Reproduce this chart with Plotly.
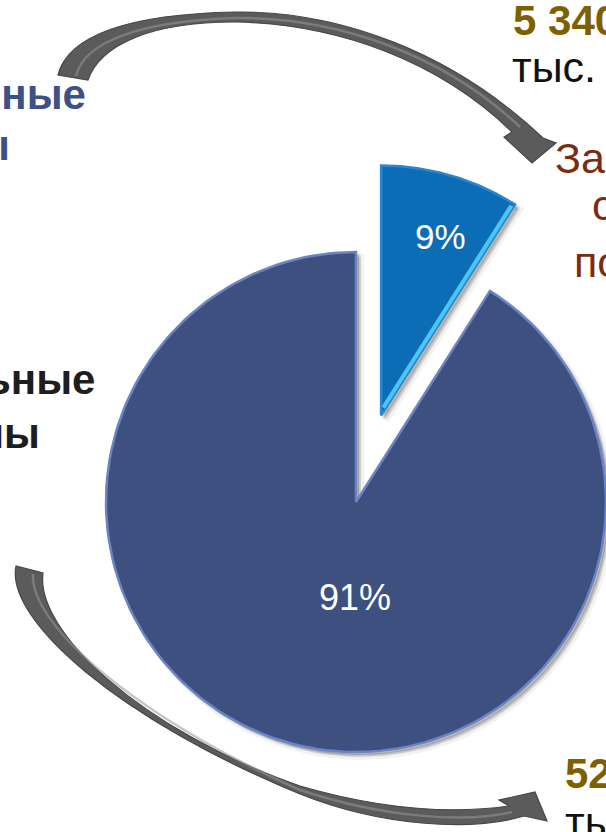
import numpy as np
import plotly.graph_objects as go

# ---------------- data ----------------
slice_labels = ["9%", "91%"]
slice_shares = [9, 91]
slice_pull = [0.36, 0.0]

value_texts = ["5 340", "52"]
unit_texts = ["тыс. р", "ты"]
left_blue_lines = ["нные", "ы"]
left_dark_lines = ["ьные", "мы"]
right_brown_lines = ["Зар", "с", "по"]

# ---------------- geometry / style ----------------
W, H = 606, 832
CX, CY, R = 356, 502, 250
slice_fill = ["#0A6DB5", "#3E5080"]
slice_edge = ["#2C86CF", "#6A84C4"]
FONT = "Arial, Liberation Sans, sans-serif"


def sector(a0, a1, cx, cy, r, n=160):
    th = np.radians(np.linspace(a0, a1, n))
    xs = np.concatenate([[cx], cx + r * np.sin(th), [cx]])
    ys = np.concatenate([[cy], cy - r * np.cos(th), [cy]])
    return xs, ys


total = float(sum(slice_shares))
cum = np.concatenate([[0.0], np.cumsum(slice_shares)]) / total * 360.0

fig = go.Figure()
geoms = []
for i in range(len(slice_shares)):
    a0, a1 = cum[i], cum[i + 1]
    mid = np.radians((a0 + a1) / 2)
    off = slice_pull[i] * R
    cx = CX + off * np.sin(mid)
    cy = CY - off * np.cos(mid)
    geoms.append((a0, a1, cx, cy))

# soft shadows
for (a0, a1, cx, cy) in geoms:
    for d, alpha, w in [(5, 0.10, 6), (3, 0.18, 3)]:
        xs, ys = sector(a0, a1, cx + d, cy + d, R)
        fig.add_trace(go.Scatter(x=xs, y=ys, mode="lines", fill="toself",
                                 fillcolor=f"rgba(0,0,0,{alpha})",
                                 line=dict(color=f"rgba(0,0,0,{alpha/2})", width=w),
                                 hoverinfo="skip", showlegend=False))

# slices
for i, (a0, a1, cx, cy) in enumerate(geoms):
    xs, ys = sector(a0, a1, cx, cy, R)
    fig.add_trace(go.Scatter(x=xs, y=ys, mode="lines", fill="toself",
                             fillcolor=slice_fill[i],
                             line=dict(color=slice_edge[i], width=2.5),
                             hoverinfo="skip", showlegend=False, name=slice_labels[i]))

# bright bevel on the right straight edge of the exploded slice
a0, a1, cx, cy = geoms[0]
t = np.radians(a1)
ins = 2.5
ex = [cx + 8 * np.sin(t) - ins * np.cos(t), cx + (R - 3) * np.sin(t) - ins * np.cos(t)]
ey = [cy - 8 * np.cos(t) - ins * np.sin(t), cy - (R - 3) * np.cos(t) - ins * np.sin(t)]
fig.add_trace(go.Scatter(x=ex, y=ey, mode="lines", line=dict(color="#4CC6F4", width=4),
                         hoverinfo="skip", showlegend=False))

# ---------------- arrows ----------------
arrow_top = ("M 58,75 C 68,35 130,14 235,12 C 340,11 452,52 543,138 "
             "L 556,143 L 532,163 L 504,137 L 512,132 "
             "C 440,62 340,24 235,22 C 150,22 100,45 88,80 Z")
arrow_bottom = ("M 16,566 C 5,620 120,720 300,794 C 380,826 470,832 524,816 "
                "L 547,821 L 535,792 L 499,800 L 509,806 "
                "C 460,813 390,812 300,786 C 140,730 35,630 43,573 Z")
hl_top = "M 76,76 C 84,42 140,21 235,18 C 340,17 445,56 520,127"
hl_bottom = "M 33,574 C 30,625 135,716 300,790 C 385,818 465,823 512,812"
shapes = []
for p in (arrow_top, arrow_bottom):
    shapes.append(dict(type="path", path=p, xref="x", yref="y",
                       fillcolor="#5B5B5B", line=dict(color="#474747", width=1.2),
                       layer="above"))
for p in (hl_top, hl_bottom):
    shapes.append(dict(type="path", path=p, xref="x", yref="y",
                       line=dict(color="rgba(150,150,150,0.55)", width=2.5),
                       layer="above"))


# ---------------- texts ----------------
def ann(s, x, y, color, size=42, bold=False, xanchor="left"):
    return dict(text=f"<b>{s}</b>" if bold else s, x=x / W, y=1 - y / H,
                xref="paper", yref="paper", xanchor=xanchor, yanchor="middle",
                showarrow=False, font=dict(family=FONT, size=size, color=color))


anns = [
    ann(value_texts[0], 511, 20, "#7F6000", bold=True),
    ann(unit_texts[0], 510, 67, "#111111", size=43),
    ann(left_blue_lines[0], 88, 95, "#3E5185", bold=True, xanchor="right"),
    ann(left_blue_lines[1], 12, 145, "#3E5185", bold=True, xanchor="right"),
    ann(left_dark_lines[0], 97, 380, "#1E1E1E", bold=True, xanchor="right"),
    ann(left_dark_lines[1], 42, 433, "#1E1E1E", bold=True, xanchor="right"),
    ann(right_brown_lines[0], 553, 158, "#7A2C12", size=43),
    ann(right_brown_lines[1], 590, 205, "#7A2C12", size=43),
    ann(right_brown_lines[2], 572, 262, "#7A2C12", size=43),
    ann(value_texts[1], 563, 773, "#7F6000", bold=True),
    ann(unit_texts[1], 563, 822, "#111111", size=43),
    ann(slice_labels[0], 440, 236, "#FFFFFF", size=35, xanchor="center"),
    ann(slice_labels[1], 355, 597, "#FFFFFF", size=36, xanchor="center"),
]

fig.update_layout(
    width=W, height=H, margin=dict(l=0, r=0, t=0, b=0),
    paper_bgcolor="white", plot_bgcolor="white", showlegend=False,
    xaxis=dict(range=[0, W], visible=False, fixedrange=True),
    yaxis=dict(range=[H, 0], visible=False, fixedrange=True),
    shapes=shapes, annotations=anns,
)

fig.write_html("out.html", config={"displayModeBar": False},
               post_script="document.body.style.margin='0';document.body.style.overflow='hidden';")
